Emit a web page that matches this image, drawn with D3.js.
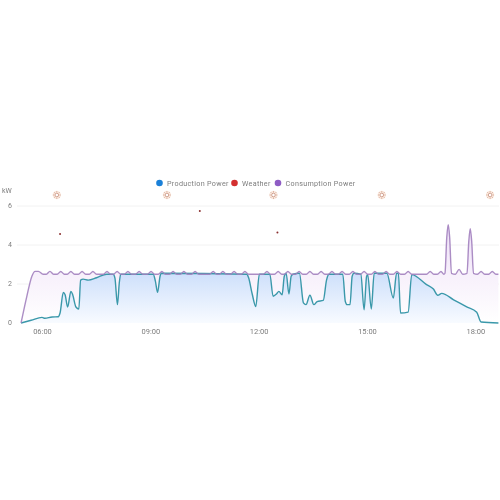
<!DOCTYPE html>
<html>
<head>
<meta charset="utf-8">
<script src="https://cdn.jsdelivr.net/npm/d3@7"></script>
<style>
  html, body { margin: 0; padding: 0; background: #fff; }
  svg { display: block; filter: blur(0.35px); }
  text { font-family: Roboto, sans-serif; fill: #7d7d7d; }
</style>
</head>
<body>
<svg id="chart"></svg>
<script>
// values, time in decimal hours
const legendNames = ["Production Power", "Weather", "Consumption Power"];
const legendColors = ["#1a80d8", "#d32f2f", "#8e5cc4"];
const yTicks = [0, 2, 4, 6];
const xTicks = [6, 9, 12, 15, 18];

const productionTimes = [
    5.42, 5.70, 6.00, 6.08, 6.28, 6.45, 6.50, 6.59, 6.64, 6.71, 6.80,
    6.85, 6.94, 7.02, 7.07, 7.14, 7.28, 7.51, 7.79, 7.97, 8.02,
    8.09, 8.14, 8.18, 9.08, 9.14, 9.20, 9.27, 9.30, 11.67, 11.72,
    11.82, 11.92, 12.02, 12.31, 12.40, 12.50, 12.56, 12.65, 12.71, 12.76,
    12.84, 12.90, 12.95, 13.13, 13.24, 13.31, 13.42, 13.53, 13.62, 13.79,
    13.88, 13.95, 14.33, 14.40, 14.45, 14.53, 14.59, 14.64, 14.83, 14.92,
    14.99, 15.02, 15.12, 15.20, 15.55, 15.73, 15.82, 15.87, 15.93, 16.14,
    16.24, 16.65, 16.84, 16.96, 17.07, 17.40, 17.75, 18.04, 18.16, 18.64
];
const productionValues = [
    0, 0.14, 0.29, 0.24, 0.31, 0.32, 0.51, 1.57, 1.45, 0.82, 1.62,
    1.45, 0.82, 0.72, 2.2, 2.25, 2.2, 2.32, 2.5, 2.5, 2.3,
    0.94, 2.05, 2.5, 2.5, 2.15, 1.57, 2.4, 2.55, 2.5, 2.33,
    1.5, 0.85, 2.5, 2.5, 1.37, 1.5, 1.62, 1.45, 2.4, 2.55,
    1.49, 2.4, 2.5, 2.55, 1.03, 0.94, 1.42, 0.94, 1.1, 1.16,
    2.2, 2.5, 2.5, 1.1, 0.94, 0.94, 2.4, 2.55, 2.5, 0.68,
    2.4, 2.48, 0.72, 2.55, 2.55, 1.28, 2.55, 2.55, 0.51, 0.56,
    2.48, 1.97, 1.74, 1.42, 1.52, 1.19, 0.84, 0.55, 0.05, 0
];

const consumptionTimes = [
    5.42, 5.58, 5.72, 5.81, 5.90, 6.03,
    6.12, 6.22, 6.32,   6.42, 6.52, 6.62,   6.70, 6.80, 6.90,   7.01, 7.11, 7.21,
    7.31, 7.41, 7.51,   7.70, 7.80, 7.90,   7.98, 8.08, 8.18,   8.28, 8.38, 8.48,
    8.59, 8.69, 8.79,   8.92, 9.02, 9.12,   9.22, 9.32, 9.42,   9.53, 9.63, 9.73,
    9.83, 9.93, 10.03,  10.14, 10.24, 10.34,  10.64, 10.74, 10.84,  10.91, 11.01, 11.11,
    11.22, 11.32, 11.42,  11.52, 11.62, 11.72,  12.13, 12.23, 12.33,  12.44, 12.54, 12.64,
    12.71, 12.81, 12.91,  13.02, 13.12, 13.22,  13.32, 13.42, 13.52,  13.63, 13.73, 13.83,
    13.93, 14.03, 14.13,  14.21, 14.31, 14.41,  14.51, 14.61, 14.71,  14.82, 14.92, 15.02,
    15.12, 15.22, 15.32,  15.43, 15.53, 15.63,  15.73, 15.83, 15.93,  16.04, 16.14, 16.24,
    16.65, 16.75, 16.85,  16.95, 17.05, 17.13,  17.16, 17.21, 17.25, 17.29, 17.34,  17.45, 17.55, 17.65,
    17.77, 17.82, 17.86, 17.90, 17.95,  18.06, 18.16, 18.26,  18.37, 18.47, 18.57,  18.64
];
const consumptionValues = [
    0, 1.37, 2.4, 2.65, 2.65, 2.5,
    2.5, 2.65, 2.5,   2.5, 2.64, 2.5,   2.5, 2.64, 2.5,   2.5, 2.64, 2.5,
    2.5, 2.64, 2.5,   2.5, 2.64, 2.5,   2.5, 2.64, 2.5,   2.5, 2.64, 2.5,
    2.5, 2.64, 2.5,   2.5, 2.64, 2.5,   2.5, 2.64, 2.5,   2.5, 2.64, 2.5,
    2.5, 2.64, 2.5,   2.5, 2.64, 2.5,   2.5, 2.64, 2.5,   2.5, 2.64, 2.5,
    2.5, 2.64, 2.5,   2.5, 2.64, 2.5,   2.5, 2.64, 2.5,   2.5, 2.64, 2.5,
    2.5, 2.64, 2.5,   2.5, 2.64, 2.5,   2.5, 2.64, 2.5,   2.5, 2.64, 2.5,
    2.5, 2.64, 2.5,   2.5, 2.64, 2.5,   2.5, 2.64, 2.5,   2.5, 2.64, 2.5,
    2.5, 2.64, 2.5,   2.5, 2.64, 2.5,   2.5, 2.64, 2.5,   2.5, 2.64, 2.5,
    2.5, 2.64, 2.5,   2.5, 2.64, 2.5,   2.55, 4.4, 5.04, 4.4, 2.55,   2.5, 2.75, 2.5,
    2.55, 4.2, 4.84, 4.2, 2.55,   2.5, 2.64, 2.5,   2.5, 2.64, 2.5,   2.5
];

const weatherTimes = [6.5, 10.37, 12.52];
const weatherValues = [4.56, 5.74, 4.64];
const sunTimes = [6.41, 9.46, 12.41, 15.41, 18.41];

const width = 500;
const height = 500;

const svg = d3.select("#chart")
    .attr("width", width)
    .attr("height", height);

const x = d3.scaleLinear().domain([6, 18]).range([42, 475.3]);
const y = d3.scaleLinear().domain([0, 6]).range([323, 206]);

const defs = svg.append("defs");

const blueGrad = defs.append("linearGradient")
    .attr("id", "blueGrad").attr("gradientUnits", "userSpaceOnUse")
    .attr("x1", 0).attr("x2", 0).attr("y1", y(2.6)).attr("y2", y(0));
blueGrad.append("stop").attr("offset", 0).attr("stop-color", "#cddffb");
blueGrad.append("stop").attr("offset", 1).attr("stop-color", "#f8fbff");

const purpleGrad = defs.append("linearGradient")
    .attr("id", "purpleGrad").attr("gradientUnits", "userSpaceOnUse")
    .attr("x1", 0).attr("x2", 0).attr("y1", y(5)).attr("y2", y(0));
purpleGrad.append("stop").attr("offset", 0).attr("stop-color", "#eddff6");
purpleGrad.append("stop").attr("offset", 0.5).attr("stop-color", "#f7f0fb");
purpleGrad.append("stop").attr("offset", 1).attr("stop-color", "#ffffff");

// grid
svg.append("g").selectAll("line")
    .data(yTicks.filter(d => d > 0))
    .enter().append("line")
    .attr("x1", 17).attr("x2", 499)
    .attr("y1", d => y(d)).attr("y2", d => y(d))
    .attr("stroke", "#f2f2f2")
    .attr("stroke-width", 1);

// axes
const yAxis = svg.append("g")
    .attr("transform", "translate(13,0)")
    .call(d3.axisLeft(y).tickValues(yTicks).tickSize(0).tickPadding(0).tickFormat(d => d));
yAxis.select(".domain").remove();
yAxis.selectAll("text")
    .attr("y", -1)
    .attr("text-anchor", "middle")
    .attr("x", -3)
    .style("font-size", "7px");

const xAxis = svg.append("g")
    .attr("transform", "translate(0,323)")
    .call(d3.axisBottom(x).tickValues(xTicks).tickSize(0).tickPadding(6)
        .tickFormat(d => String(d).padStart(2, "0") + ":00"));
xAxis.select(".domain").remove();
xAxis.selectAll("text").style("font-size", "7.5px");

svg.append("text").attr("x", 2).attr("y", 193).text("kW").style("font-size", "7px");

// series
const consumption = consumptionTimes.map((t, i) => [t, consumptionValues[i]]);
const production = productionTimes.map((t, i) => [t, productionValues[i]]);

const area = d3.area().x(d => x(d[0])).y0(y(0)).y1(d => y(d[1])).curve(d3.curveMonotoneX);
const line = d3.line().x(d => x(d[0])).y(d => y(d[1])).curve(d3.curveMonotoneX);

svg.append("path").attr("d", area(consumption)).attr("fill", "url(#purpleGrad)");
svg.append("path").attr("d", area(production)).attr("fill", "url(#blueGrad)");

svg.append("path").attr("d", line(production))
    .attr("fill", "none").attr("stroke", "#3a98aa").attr("stroke-width", 1.4);
svg.append("path").attr("d", line(consumption))
    .attr("fill", "none").attr("stroke", "#a07ebd").attr("stroke-width", 1.4)
    .attr("stroke-opacity", 0.88);

// weather points
svg.append("g").selectAll("circle")
    .data(weatherTimes)
    .enter().append("circle")
    .attr("cx", d => x(d))
    .attr("cy", (d, i) => y(weatherValues[i]))
    .attr("r", 1)
    .attr("fill", "#8a2f2f");

// sun icons along the top
const sun = svg.append("g").selectAll("g")
    .data(sunTimes)
    .enter().append("g")
    .attr("transform", d => `translate(${x(d)},195)`);
sun.append("circle").attr("r", 4.2).attr("fill", "#fbeadf");
sun.append("circle").attr("r", 1.8).attr("fill", "#fff").attr("stroke", "#b5705a").attr("stroke-width", 0.6);
sun.selectAll("line")
    .data(d3.range(8))
    .enter().append("line")
    .attr("x1", d => 2.7 * Math.cos(d * Math.PI / 4))
    .attr("y1", d => 2.7 * Math.sin(d * Math.PI / 4))
    .attr("x2", d => 3.9 * Math.cos(d * Math.PI / 4))
    .attr("y2", d => 3.9 * Math.sin(d * Math.PI / 4))
    .attr("stroke", "#b5705a").attr("stroke-width", 0.5);

// legend
const legendX = [159.5, 234.5, 278];
const legend = svg.append("g").selectAll("g")
    .data(legendNames)
    .enter().append("g")
    .attr("transform", (d, i) => `translate(${legendX[i]},183)`);
legend.append("circle").attr("r", 3.3).attr("fill", (d, i) => legendColors[i]);
legend.append("text")
    .attr("x", 7.5).attr("y", 2.5)
    .style("font-size", "7.2px")
    .style("letter-spacing", "0.3px")
    .text(d => d);
</script>
</body>
</html>
